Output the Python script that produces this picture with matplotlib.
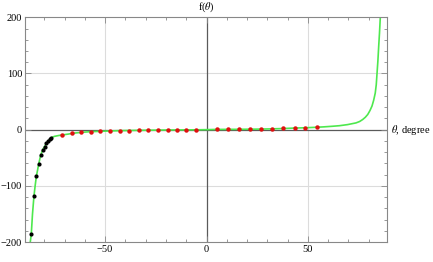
import matplotlib
matplotlib.use("Agg")
import matplotlib.pyplot as plt
from matplotlib.ticker import MultipleLocator

# Green curve
curve_theta = [-86.9, -86.4, -85.8, -85.1, -84.5, -83.9, -83.3, -82.8, -81.8, -80.8,
               -79.8, -78.9, -78.0, -77.2, -76.5, -75.0, -73.0, -71.2, -68.0, -66.3,
               -61.7, -57.1, -52.3, -47.5, -42.8, -38.2, -33.5, -28.7, -23.9, -19.2,
               -14.6, -10.0, -5.2, 0.0, 5.0, 10.0, 16.0, 22.0, 27.0, 32.0,
               38.0, 43.0, 49.0, 54.0, 58.0, 62.0, 65.5, 69.6, 73.7, 75.5,
               77.0, 78.3, 79.5, 80.6, 81.6, 82.4, 83.2, 83.7, 84.1, 84.5,
               84.9, 85.3, 85.7]
curve_f = [-200, -186, -150, -119, -100, -83, -72, -62, -46, -36,
           -30, -24, -20, -17, -14, -12, -10.5, -9.5, -7.8, -6.6,
           -4.8, -3.6, -3.0, -2.3, -1.8, -1.5, -1.2, -1.0, -0.8, -0.6,
           -0.5, -0.4, -0.3, 0.0, 0.4, 0.5, 0.6, 0.8, 1.0, 1.4,
           2.0, 2.8, 3.4, 4.2, 5.0, 6.0, 7.0, 9.0, 12.0, 14.5,
           18.0, 22.0, 27.0, 34.0, 42.0, 52.0, 65.0, 80.0, 101.0, 122.0,
           148.0, 172.0, 200.0]

# Black points
black_theta = [-86.4, -85.1, -83.9, -82.8, -81.8, -80.8, -79.8, -78.9, -78.0, -77.2, -76.5]
black_f = [-186, -119, -83, -62, -46, -36, -30, -24, -20, -17, -14]

# Red points
red_theta = [-71.2, -66.3, -61.7, -57.1, -52.3, -47.5, -42.8, -38.2, -33.5, -28.7,
             -23.9, -19.2, -14.6, -10.0, -5.2,
             5.2, 10.6, 16.2, 21.6, 26.8, 32.4, 37.8, 43.4, 48.8, 54.4]
red_f = [-9.5, -6.6, -4.8, -3.6, -3.0, -2.3, -1.8, -1.8, -1.2, -1.0,
         -0.8, -0.6, -0.5, -0.4, -0.3,
         0.5, 0.5, 0.5, 0.5, 0.5, 1.3, 2.3, 3.6, 3.6, 4.2]

x_ticks = [-50, 0, 50]
x_ticklabels = ["\u221250", "0", "50"]
y_ticks = [-200, -100, 0, 100, 200]
y_ticklabels = ["\u2212200", "\u2212100", "0", "100", "200"]

plt.rcParams['font.family'] = ['Liberation Serif', 'DejaVu Serif']
fs = 7.5

fig = plt.figure(figsize=(4.33, 2.62), dpi=100)
ax = fig.add_axes([25/433, 1-242/262, (387-25)/433, (242-17.3)/262])
ax.set_xlim(-89.5, 89.0)
ax.set_ylim(-200, 200)

# grid
for gx in [-50, 50]:
    ax.axvline(gx, color='#dcdcdc', lw=0.8, zorder=0)
for gy in [-100, 100]:
    ax.axhline(gy, color='#dcdcdc', lw=0.8, zorder=0)
# axes through origin
ax.axhline(0, color='#5a5a5a', lw=0.9, zorder=1)
ax.axvline(0, color='#5a5a5a', lw=0.9, zorder=1)

ax.plot(curve_theta, curve_f, color='#4ee84e', lw=1.2, zorder=2, clip_on=True)
ax.plot(black_theta, black_f, 'o', color='black', ms=3.0, mew=0, zorder=3)
ax.plot(red_theta, red_f, 'o', color='#e01010', ms=3.2, mew=0, zorder=3)

ax.set_xticks(x_ticks)
ax.set_xticklabels(x_ticklabels, fontsize=fs)
ax.set_yticks(y_ticks)
ax.set_yticklabels(y_ticklabels, fontsize=fs)
ax.xaxis.set_minor_locator(MultipleLocator(10))
ax.yaxis.set_minor_locator(MultipleLocator(20))
ax.tick_params(which='both', direction='in', top=True, right=True, color='#888888', width=0.6)
ax.tick_params(which='major', length=4, pad=2)
ax.tick_params(which='minor', length=2)
for s in ax.spines.values():
    s.set_color('#888888')
    s.set_linewidth(0.8)

ax.text(1.01, 0, "$\\theta$, degree", transform=ax.get_yaxis_transform(), ha='left', va='center',
        fontsize=fs, math_fontfamily='stix')
ax.text(0, 1.015, "f($\\theta$)", transform=ax.get_xaxis_transform(), ha='center', va='bottom',
        fontsize=fs, math_fontfamily='stix')

fig.savefig("out.png", dpi=100)
